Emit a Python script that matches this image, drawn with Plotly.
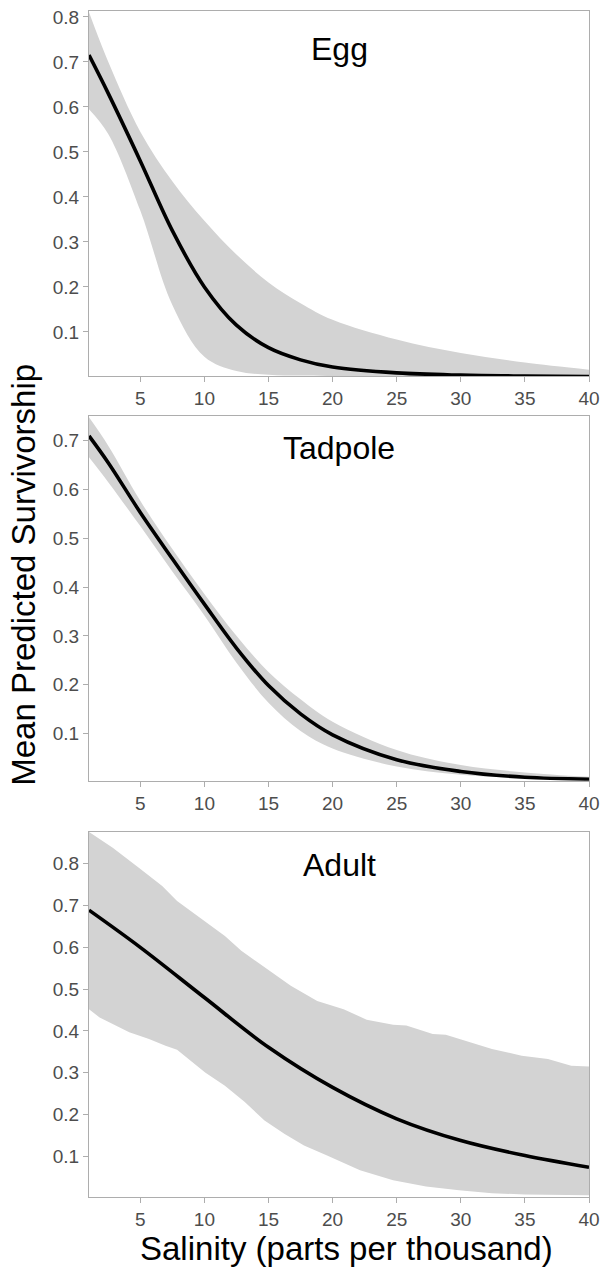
import plotly.graph_objects as go

# ---------------- data ----------------
egg_x = [1, 2.5, 5, 7.5, 10, 12.5, 15, 17.5, 20, 25, 30, 35, 40]
egg_mean = [0.715, 0.630, 0.48, 0.325, 0.20, 0.115, 0.065, 0.038, 0.022, 0.009, 0.004, 0.002, 0.001]
egg_upper = [0.81, 0.70, 0.545, 0.435, 0.347, 0.272, 0.21, 0.164, 0.127, 0.083, 0.053, 0.032, 0.016]
egg_lower = [0.595, 0.54, 0.37, 0.16, 0.045, 0.013, 0.005, 0.003, 0.002, 0.001, 0.001, 0.001, 0.001]

tad_x = [1, 2.5, 5, 7.5, 10, 12.5, 15, 17.5, 20, 25, 30, 35, 40]
tad_mean = [0.71, 0.655, 0.553, 0.458, 0.365, 0.275, 0.198, 0.140, 0.097, 0.046, 0.022, 0.010, 0.006]
tad_upper = [0.748, 0.69, 0.577, 0.478, 0.386, 0.30, 0.226, 0.17, 0.124, 0.066, 0.035, 0.020, 0.011]
tad_lower = [0.666, 0.615, 0.525, 0.432, 0.342, 0.245, 0.163, 0.105, 0.069, 0.032, 0.015, 0.008, 0.004]

adult_x = [1, 5, 10, 15, 20, 25, 30, 35, 40]
adult_mean = [0.689, 0.600, 0.480, 0.361, 0.265, 0.190, 0.138, 0.102, 0.074]
adult_upper_x = [1, 2.85, 4.91, 6.71, 7.87, 9.80, 11.6, 12.88, 14.69, 16.74, 18.80, 20.86,
                 22.66, 24.72, 25.75, 27.81, 28.83, 30.38, 32.43, 34.75, 36.80, 38.61, 40]
adult_upper = [0.876, 0.838, 0.790, 0.747, 0.711, 0.667, 0.627, 0.592, 0.552, 0.508, 0.472, 0.452,
               0.427, 0.415, 0.413, 0.393, 0.391, 0.377, 0.357, 0.341, 0.333, 0.317, 0.315]
adult_lower_x = [1, 1.83, 4.14, 5.68, 6.97, 7.87, 10.06, 11.6, 13.15, 14.69, 16.23, 17.77,
                 19.57, 22.14, 24.72, 27.29, 29.86, 32.43, 35.0, 40]
adult_lower = [0.452, 0.432, 0.397, 0.381, 0.365, 0.355, 0.301, 0.269, 0.230, 0.186, 0.154, 0.126,
               0.102, 0.067, 0.043, 0.028, 0.019, 0.012, 0.009, 0.007]

panel_titles = ["Egg", "Tadpole", "Adult"]
x_ticks = [5, 10, 15, 20, 25, 30, 35, 40]
y_ticks = [0.1, 0.2, 0.3, 0.4, 0.5, 0.6, 0.7, 0.8]

# ---------------- figure ----------------
W, H = 607, 1278
ML, MR, MT, MB = 89, 13, 7, 81
FONT = "Liberation Sans, Arial, Helvetica, sans-serif"
BAND = "rgb(211,211,211)"
AXC = "#adadad"

fig = go.Figure()

panels = [
    (egg_x, egg_lower, egg_x, egg_upper, egg_x, egg_mean, "spline", [0.002, 0.813], [0.6922, 1.0]),
    (tad_x, tad_lower, tad_x, tad_upper, tad_x, tad_mean, "spline", [0.003, 0.751], [0.3510, 0.6586]),
    (adult_lower_x, adult_lower, adult_upper_x, adult_upper, adult_x, adult_mean, "linear", [0.003, 0.876], [0.0, 0.3078]),
]

for i, (lx, ly, ux, uy, mx, my, shape, yr, dom) in enumerate(panels):
    n = "" if i == 0 else str(i + 1)
    xa, ya = "x" + n, "y" + n
    fig.add_trace(go.Scatter(x=lx, y=ly, mode="lines", line=dict(width=0, color=BAND, shape=shape),
                             xaxis=xa, yaxis=ya, showlegend=False, hoverinfo="skip"))
    fig.add_trace(go.Scatter(x=ux, y=uy, mode="lines", line=dict(width=0, color=BAND, shape=shape),
                             fill="tonexty", fillcolor=BAND,
                             xaxis=xa, yaxis=ya, showlegend=False, hoverinfo="skip"))
    fig.add_trace(go.Scatter(x=mx, y=my, mode="lines", line=dict(width=3.6, color="black", shape="spline"),
                             xaxis=xa, yaxis=ya, showlegend=False))
    common = dict(showline=True, mirror=True, linecolor=AXC, linewidth=1, ticks="outside",
                  ticklen=5, tickcolor=AXC, tickwidth=1, showgrid=False, zeroline=False,
                  tickfont=dict(family=FONT, size=19, color="#4d4d4d"))
    fig.layout["xaxis" + n] = dict(range=[1, 40], tickvals=x_ticks, anchor=ya, domain=[0, 1], **common)
    fig.layout["yaxis" + n] = dict(range=yr, tickvals=y_ticks, tickformat=".1f", anchor=xa, domain=dom, **common)

plot_w = W - ML - MR
plot_h = H - MT - MB

def px(X):
    return (X - ML) / plot_w

def py(Y):
    return (H - MB - Y) / plot_h

title_y = [45, 445, 864]
for t, Y in zip(panel_titles, title_y):
    fig.add_annotation(text=t, x=px(342), y=py(Y), xref="paper", yref="paper", showarrow=False,
                       xanchor="center", yanchor="middle", font=dict(family=FONT, size=32, color="black"))

fig.add_annotation(text="Mean Predicted Survivorship", x=px(22), y=py(573), xref="paper", yref="paper",
                   showarrow=False, textangle=-90, xanchor="center", yanchor="middle",
                   font=dict(family=FONT, size=33, color="black"))
fig.add_annotation(text="Salinity (parts per thousand)", x=px(349), y=py(1249), xref="paper", yref="paper",
                   showarrow=False, xanchor="center", yanchor="middle",
                   font=dict(family=FONT, size=33, color="black"))

fig.update_layout(width=W, height=H, margin=dict(l=ML, r=MR, t=MT, b=MB),
                  paper_bgcolor="white", plot_bgcolor="white", showlegend=False)

fig.write_html("out.html")
